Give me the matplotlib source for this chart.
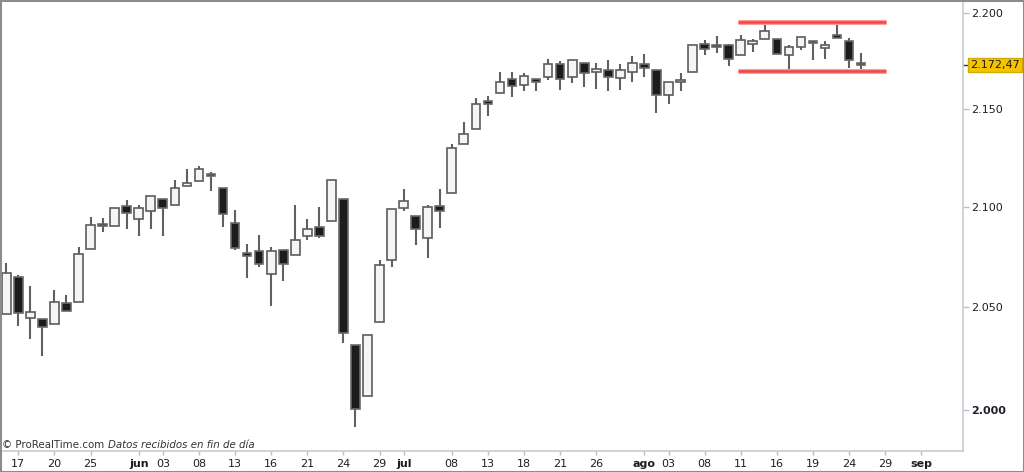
import numpy as np
import pandas as pd
import matplotlib
matplotlib.use('Agg')
import matplotlib.pyplot as plt
from matplotlib.patches import Rectangle
from matplotlib.transforms import blended_transform_factory

# daily candles, 16 May - 25 Aug 2016 (index level, end of day data)
opens = [2046.53, 2065.04, 2044.38, 2044.21, 2041.88, 2052.23, 2052.65, 2078.93, 2091.44, 2090.06,
         2100.13, 2093.94, 2097.71, 2104.07, 2100.83, 2110.18, 2112.71, 2115.65, 2109.57, 2091.75,
         2076.65, 2077.60, 2066.36, 2078.20, 2075.58, 2085.19, 2089.75, 2092.80, 2103.81, 2031.45,
         2006.67, 2042.69, 2073.17, 2099.34, 2095.05, 2084.43, 2100.42, 2106.97, 2131.72, 2139.50,
         2153.81, 2157.88, 2165.13, 2162.04, 2163.79, 2166.10, 2172.91, 2166.47, 2173.71, 2168.97,
         2169.81, 2166.05, 2168.83, 2173.15, 2169.94, 2156.81, 2163.51, 2168.79, 2183.76, 2182.24,
         2182.81, 2177.97, 2183.74, 2186.08, 2186.24, 2177.84, 2181.90, 2184.24, 2181.58, 2187.81,
         2185.09, 2173.29]
highs = [2071.88, 2065.69, 2060.61, 2044.21, 2058.35, 2055.91, 2079.67, 2094.73, 2094.30, 2099.06,
         2103.48, 2100.97, 2105.26, 2104.07, 2113.36, 2119.22, 2120.55, 2117.64, 2109.57, 2098.12,
         2081.30, 2085.65, 2079.62, 2078.20, 2100.66, 2093.66, 2099.71, 2113.32, 2103.81, 2031.45,
         2036.09, 2073.13, 2098.94, 2108.71, 2095.05, 2100.72, 2109.08, 2131.71, 2143.16, 2155.40,
         2156.45, 2168.99, 2169.05, 2168.35, 2164.63, 2175.63, 2174.56, 2175.11, 2173.71, 2173.54,
         2174.98, 2172.85, 2177.09, 2178.29, 2170.20, 2163.79, 2168.19, 2182.87, 2185.44, 2187.66,
         2183.41, 2188.45, 2186.28, 2193.81, 2186.24, 2183.08, 2187.03, 2185.00, 2184.93, 2193.42,
         2186.66, 2179.00]
lows = [2046.53, 2040.82, 2034.49, 2025.91, 2041.88, 2047.83, 2052.65, 2078.93, 2087.08, 2090.06,
        2088.66, 2085.10, 2088.59, 2085.36, 2100.83, 2110.18, 2112.71, 2107.73, 2089.96, 2078.46,
        2064.10, 2069.80, 2050.37, 2062.84, 2075.58, 2083.02, 2084.36, 2092.80, 2032.57, 1991.68,
        2006.67, 2042.69, 2070.00, 2097.90, 2080.86, 2074.02, 2089.39, 2106.97, 2131.72, 2139.50,
        2146.21, 2157.88, 2155.79, 2159.07, 2159.01, 2164.89, 2159.75, 2163.24, 2161.35, 2160.18,
        2159.07, 2159.74, 2163.49, 2166.21, 2147.58, 2152.56, 2159.07, 2168.79, 2177.85, 2178.61,
        2172.00, 2177.97, 2179.42, 2186.08, 2178.14, 2168.50, 2180.46, 2175.13, 2175.96, 2186.80,
        2171.25, 2169.74]
closes = [2066.66, 2047.21, 2047.63, 2040.04, 2052.32, 2048.04, 2076.06, 2090.54, 2090.10, 2099.06,
          2096.95, 2099.33, 2105.26, 2099.13, 2109.41, 2112.13, 2119.12, 2115.48, 2096.07, 2079.06,
          2075.32, 2071.50, 2077.99, 2071.22, 2083.25, 2088.90, 2085.45, 2113.32, 2037.41, 2000.54,
          2036.09, 2070.77, 2098.86, 2102.95, 2088.55, 2099.73, 2097.90, 2129.90, 2137.16, 2152.14,
          2152.43, 2163.75, 2161.74, 2166.89, 2163.78, 2173.02, 2165.17, 2175.03, 2168.48, 2169.18,
          2166.58, 2170.06, 2173.60, 2170.84, 2157.03, 2163.79, 2164.25, 2182.87, 2180.89, 2181.74,
          2175.49, 2185.79, 2184.05, 2190.15, 2178.15, 2182.22, 2187.02, 2183.87, 2182.64, 2186.90,
          2175.44, 2172.47]

# trading calendar (for the x axis) incl. days after the last candle
holidays = ['2016-05-30', '2016-07-04']
sessions = pd.bdate_range('2016-05-16', '2016-09-02')
sessions = sessions[~sessions.isin(pd.to_datetime(holidays))]

tick_dates = ['2016-05-17', '2016-05-20', '2016-05-25', '2016-06-01', '2016-06-03', '2016-06-08',
              '2016-06-13', '2016-06-16', '2016-06-21', '2016-06-24', '2016-06-29', '2016-07-01',
              '2016-07-08', '2016-07-13', '2016-07-18', '2016-07-21', '2016-07-26', '2016-08-01',
              '2016-08-03', '2016-08-08', '2016-08-11', '2016-08-16', '2016-08-19', '2016-08-24',
              '2016-08-29', '2016-09-01']
tick_labels = ['17', '20', '25', 'jun', '03', '08', '13', '16', '21', '24', '29', 'jul',
               '08', '13', '18', '21', '26', 'ago', '03', '08', '11', '16', '19', '24', '29', 'sep']
month_labels = ['jun', 'jul', 'ago', 'sep']

# support / resistance of the August range
range_top = 2195.0
range_bottom = 2169.3
range_start = '2016-08-11'

last_price = closes[-1]

W, H = 1024, 472
fig = plt.figure(figsize=(W / 100, H / 100), dpi=100)
ax = fig.add_axes([1 / W, 21 / H, 962 / W, 450 / H])

o = np.array(opens)
h = np.array(highs)
l = np.array(lows)
c = np.array(closes)
x = np.arange(len(c))
up = c >= o

# wicks
ax.vlines(x, l, h, color='#606060', lw=1.5, zorder=2)
# bodies
bottom = np.minimum(o, c)
top = np.maximum(o, c)
top = np.maximum(top, bottom * 1.0006)   # keep dojis visible
ax.bar(x[up], top[up] - bottom[up], bottom=bottom[up], width=0.72,
       color='#f5f5f5', edgecolor='#5c5c5c', lw=1.2, zorder=3)
ax.bar(x[~up], top[~up] - bottom[~up], bottom=bottom[~up], width=0.72,
       color='#1c1c1c', edgecolor='#6a6a6a', lw=1.2, zorder=3)

# range lines
i0 = sessions.get_loc(pd.Timestamp(range_start)) - 0.2
i1 = len(c) + 1.05
for yv in (range_top, range_bottom):
    ax.hlines(yv, i0, i1, color='#ff9a9a', lw=3.6, zorder=4)
    ax.hlines(yv, i0, i1, color='#f04848', lw=1.8, zorder=5)

ax.set_yscale('log')
ax.set_ylim(1980.4, 2206.2)
ax.set_xlim(-0.44, 79.46)

yticks = [2000, 2050, 2100, 2150, 2200]
ax.yaxis.tick_right()
ax.set_yticks(yticks)
ax.set_yticks([], minor=True)
ax.set_yticklabels(['{:,}'.format(v).replace(',', '.') for v in yticks])
for t in ax.get_yticklabels():
    if t.get_text() == '2.000':
        t.set_fontweight('bold')
ax.tick_params(axis='y', which='major', direction='out', length=4, width=1, color='#b8c0c8',
               labelsize=8, labelcolor='#1e1e2a', pad=2)

xt = [sessions.get_loc(pd.Timestamp(d)) for d in tick_dates]
ax.set_xticks(xt)
ax.set_xticklabels(tick_labels)
for t in ax.get_xticklabels():
    if t.get_text() in month_labels:
        t.set_fontweight('bold')
ax.tick_params(axis='x', direction='out', length=3, width=1, color='#b8c0c8',
               labelsize=8, labelcolor='#1e1e1e', pad=3)

for s in ('top', 'left'):
    ax.spines[s].set_visible(False)
for s in ('right', 'bottom'):
    ax.spines[s].set_color('#c4ccd4')
    ax.spines[s].set_linewidth(1.2)

# last price tag
tr = blended_transform_factory(ax.transAxes, ax.transData)
ax.plot([1.0, 1.005], [last_price, last_price], color='#333333', lw=1, transform=tr,
        clip_on=False)
ax.text(1.0 + 7 / 962, last_price, '{:.2f}'.format(last_price).replace('.', ',').replace('2172', '2.172'),
        transform=tr, ha='left', va='center', fontsize=8, color='#1a1a1a',
        bbox=dict(boxstyle='square,pad=0.2', facecolor='#f5c400', edgecolor='#d4aa00', lw=1))

# source note
t1 = fig.text(2 / W, 1 - 445 / H, '© ProRealTime.com', fontsize=7.4, color='#333333',
              ha='left', va='center')
fig.canvas.draw()
bb = t1.get_window_extent(renderer=fig.canvas.get_renderer())
fig.text((bb.x1 + 4) / W, 1 - 445 / H, 'Datos recibidos en fin de día', fontsize=7.4,
         style='italic', color='#333333', ha='left', va='center')

# outer frame
fig.patches.append(Rectangle((0.5 / W, 0.5 / H), 1 - 1 / W, 1 - 1 / H, transform=fig.transFigure,
                             fill=False, edgecolor='#8c8c8c', lw=1.5))

fig.savefig('out.png', dpi=100)
